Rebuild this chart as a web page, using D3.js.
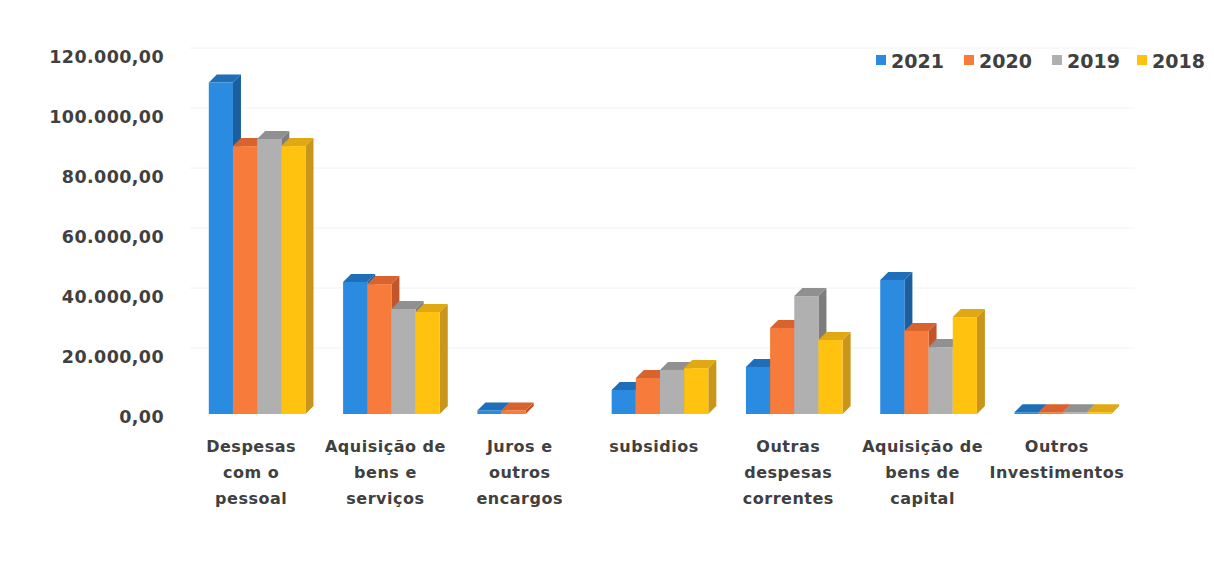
<!DOCTYPE html>
<html><head><meta charset="utf-8">
<script src="https://cdn.jsdelivr.net/npm/d3@7"></script>
<style>body{margin:0;background:#fff}svg{display:block}text{font-family:"DejaVu Sans",sans-serif;fill:#404040}</style>
</head><body><svg id="c" width="1214" height="582"></svg>
<script>
const categories = [["Despesas","com o","pessoal"],["Aquisição de","bens e","serviços"],["Juros e","outros","encargos"],["subsidios"],["Outras","despesas","correntes"],["Aquisição de","bens de","capital"],["Outros","Investimentos"]];
const seriesNames = ["2021","2020","2019","2018"];
const v2021 = [110500, 44000, 1200, 8000, 15700, 44700, 600];
const v2020 = [89300, 43300, 1200, 12000, 28700, 27700, 600];
const v2019 = [91700, 35000, null, 14700, 39300, 22300, 600];
const v2018 = [89300, 34000, null, 15300, 24700, 32300, 600];
const yTicks = [0,20000,40000,60000,80000,100000,120000];
const colors = ["#2b8be0","#f77b3a","#b0b0b0","#ffc20e"];
const sideColors = ["#1b5f9e","#c2552a","#7d7d7d","#c9951a"];
const topColors = ["#1f6fb8","#d8632e","#909090","#e0a914"];
const values = [v2021,v2020,v2019,v2018];

const svg = d3.select("#c");
const depth = 8;
const x = d3.scaleBand().domain(d3.range(categories.length)).range([190,1130]).paddingInner(0.28).paddingOuter(0.14);
const xi = d3.scaleBand().domain(d3.range(seriesNames.length)).range([0,x.bandwidth()]);
const y = d3.scaleLinear().domain([0,120000]).range([414,54]);

// gridlines
svg.append("g").selectAll("line").data(yTicks.slice(1)).join("line")
  .attr("x1",190).attr("x2",1135).attr("y1",d=>y(d)-depth+2).attr("y2",d=>y(d)-depth+2)
  .attr("stroke","#f2f2f2").attr("stroke-width",1);

// y axis labels
const fmt = d => d3.formatLocale({decimal:",",thousands:".",grouping:[3],currency:["",""]}).format(",.2f")(d);
const yAxis = d3.axisLeft(y).tickValues(yTicks).tickFormat(fmt).tickSize(0).tickPadding(0);
const ga = svg.append("g").attr("transform","translate(164,3)").call(yAxis);
ga.select(".domain").remove();
ga.selectAll("text").style("font-size","17.5px").style("font-weight","bold").style("letter-spacing","0.4px").attr("fill","#404040").style("font-family","DejaVu Sans");

// bars
categories.forEach((cat,ci)=>{
  const g = svg.append("g");
  seriesNames.forEach((s,si)=>{
    const v = values[si][ci];
    if (v==null) return;
    const x0 = x(ci)+xi(si), w = xi.bandwidth(), yt = y(v), yb = y(0);
    g.append("path").attr("d",`M${x0+w},${yt}L${x0+w+depth},${yt-depth}L${x0+w+depth},${yb-depth}L${x0+w},${yb}Z`).attr("fill",sideColors[si]);
    g.append("path").attr("d",`M${x0},${yt}L${x0+depth},${yt-depth}L${x0+w+depth},${yt-depth}L${x0+w},${yt}Z`).attr("fill",topColors[si]);
    g.append("rect").attr("x",x0).attr("y",yt).attr("width",w).attr("height",Math.max(0,yb-yt)).attr("fill",colors[si]);
  });
});

// category labels
categories.forEach((lines,ci)=>{
  const t = svg.append("text").attr("text-anchor","middle").style("font-size","16px").style("font-weight","bold").style("letter-spacing","0.5px").attr("fill","#505050");
  lines.forEach((l,li)=>t.append("tspan").attr("x",x(ci)+x.bandwidth()/2-6).attr("y",452+li*26).text(l));
});

// legend
const lx = [876,964,1052,1137];
seriesNames.forEach((s,si)=>{
  svg.append("rect").attr("x",lx[si]).attr("y",55).attr("width",10).attr("height",10).attr("fill",colors[si]);
  svg.append("text").attr("x",lx[si]+15).attr("y",68).style("font-size","19px").style("font-weight","bold").attr("fill","#404040").text(s);
});
</script></body></html>
